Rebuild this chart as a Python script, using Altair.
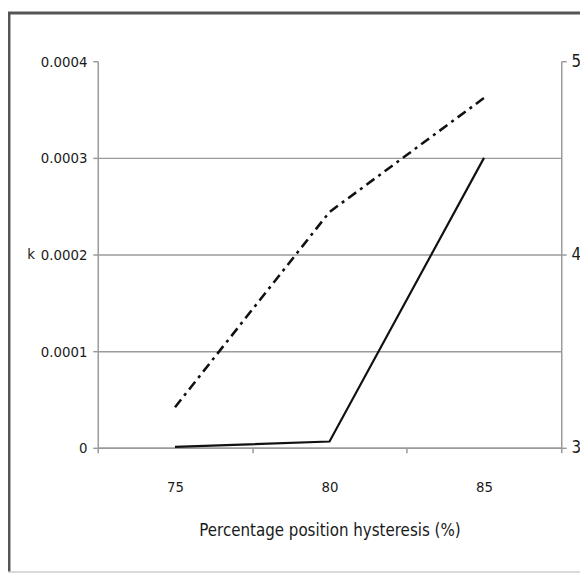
import altair as alt
import pandas as pd

categories = ["75", "80", "85"]
k_values = [0.000001, 0.0000065, 0.0003]
right_values = [3.21, 4.22, 4.81]

df = pd.DataFrame({"x": categories, "k": k_values, "r": right_values})
frame_df = pd.DataFrame({"a": [0]})

FONT = "Liberation Sans Narrow, Arial Narrow, DejaVu Sans Condensed, sans-serif"
TXT = "#1a1a1a"
GRID = "#9a9a9a"

xenc = alt.X(
    "x:O",
    sort=categories,
    scale=alt.Scale(type="band", paddingInner=0, paddingOuter=0),
    axis=alt.Axis(
        title="Percentage position hysteresis (%)",
        labelAngle=0,
        tickBand="extent",
        domainColor=GRID,
        domainWidth=1.5,
        tickColor=GRID,
        tickWidth=1.5,
        tickSize=5,
        labelPadding=27,
        titlePadding=29,
        titleFontSize=17,
        grid=False,
    ),
)

left = alt.Chart(df).mark_line(color="#111111", strokeWidth=2.2).encode(
    x=xenc,
    y=alt.Y(
        "k:Q",
        scale=alt.Scale(domain=[0, 0.0004], nice=False, zero=True),
        axis=alt.Axis(
            values=[0, 0.0001, 0.0002, 0.0003, 0.0004],
            format="~f",
            title="k",
            titleAngle=0,
            titleX=-68,
            titleY=195,
            titleAlign="center",
            titleBaseline="middle",
            grid=True,
            gridColor=GRID,
            gridWidth=1.5,
            gridOpacity={"condition": {"test": "datum.value > 0.00035", "value": 0}, "value": 1},
            domainColor=GRID,
            domainWidth=1.5,
            tickColor=GRID,
            tickWidth=1.5,
            tickSize=5,
            labelPadding=6,
        ),
    ),
)

right = alt.Chart(df).mark_line(
    color="#111111", strokeWidth=2.6, strokeDash=[10, 5, 3, 5]
).encode(
    x=alt.X("x:O", sort=categories),
    y=alt.Y(
        "r:Q",
        scale=alt.Scale(domain=[3, 5], nice=False, zero=False),
        axis=alt.Axis(
            orient="right",
            values=[3, 4, 5],
            title=None,
            grid=False,
            domainColor=GRID,
            domainWidth=1.5,
            tickColor=GRID,
            tickWidth=1.5,
            tickSize=5,
            labelPadding=5,
            labelFontSize=17,
        ),
    ),
)

frame_left = alt.Chart(frame_df).mark_rule(color="#555555", strokeWidth=3).encode(
    x=alt.value(-90), y=alt.value(-50), y2=alt.value(518)
)
frame_top = alt.Chart(frame_df).mark_rule(color="#555555", strokeWidth=3).encode(
    x=alt.value(-91), x2=alt.value(600), y=alt.value(-49)
)
frame_bottom = alt.Chart(frame_df).mark_rule(color="#cccccc", strokeWidth=1.5).encode(
    x=alt.value(-91), x2=alt.value(600), y=alt.value(518)
)

chart = (
    alt.layer(frame_left, frame_top, frame_bottom, left, right)
    .resolve_scale(y="independent")
    .properties(
        width=470,
        height=392,
        autosize=alt.AutoSizeParams(type="none"),
        padding={"left": 91, "top": 50, "right": 19, "bottom": 127},
        background="white",
    )
    .configure_view(stroke=None)
    .configure_axis(
        labelFont=FONT,
        titleFont=FONT,
        labelFontSize=15,
        titleFontSize=15,
        labelColor=TXT,
        titleColor=TXT,
        labelFontWeight="normal",
        titleFontWeight="normal",
    )
)

chart.save("out.html", embed_options={"renderer": "svg", "actions": False})
